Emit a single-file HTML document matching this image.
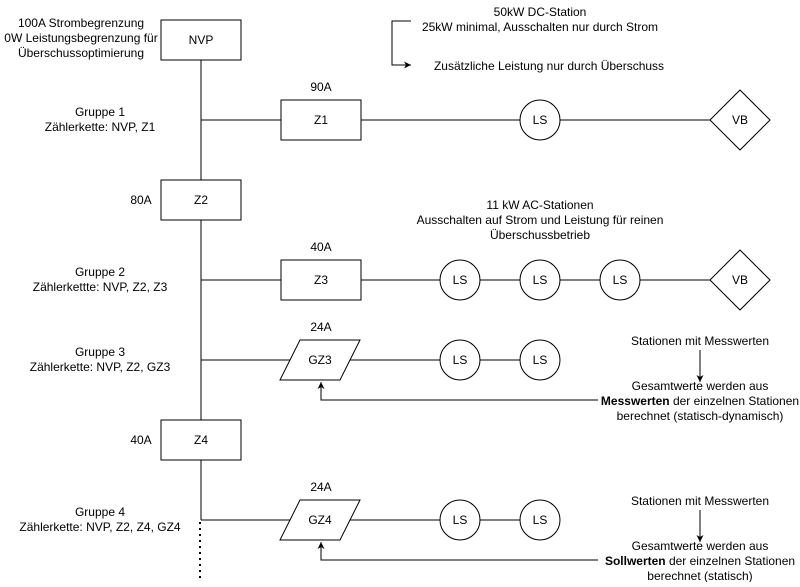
<!DOCTYPE html>
<html><head><meta charset="utf-8"><style>
body{margin:0;background:#fff}
text{font-family:"Liberation Sans",sans-serif;font-size:12px;fill:#000}
</style></head><body>
<svg width="800" height="582" viewBox="0 0 800 582" xmlns="http://www.w3.org/2000/svg">
<defs><marker id="a" markerWidth="8" markerHeight="8" refX="7" refY="4" orient="auto" markerUnits="userSpaceOnUse"><path d="M0,0.5 L7,4 L0,7.5 L2,4 Z" fill="#000"/></marker></defs>
<g stroke="#000" fill="none" stroke-width="1">
<path d="M201,60V180M201,220V420M201,460V520"/>
<path d="M201,120H281M361,120H520M560,120H710"/>
<path d="M201,280H281M361,280H440M480,280H520M560,280H600M640,280H710"/>
<path d="M201,360H290M350,360H440M480,360H520"/>
<path d="M201,520H290M350,520H440M480,520H520"/>
<path d="M200,522V580" stroke-width="2" stroke-dasharray="2,4"/>
<rect x="161" y="20" width="80" height="40" fill="#fff"/>
<rect x="161" y="180" width="80" height="40" fill="#fff"/>
<rect x="161" y="420" width="80" height="40" fill="#fff"/>
<rect x="281" y="100" width="80" height="40" fill="#fff"/>
<rect x="281" y="260" width="80" height="40" fill="#fff"/>
<path d="M300,340H360L340,380H280Z" fill="#fff"/>
<path d="M300,500H360L340,540H280Z" fill="#fff"/>
<circle cx="540" cy="120" r="20" fill="#fff"/>
<circle cx="460" cy="280" r="20" fill="#fff"/><circle cx="540" cy="280" r="20" fill="#fff"/><circle cx="620" cy="280" r="20" fill="#fff"/>
<circle cx="460" cy="360" r="20" fill="#fff"/><circle cx="540" cy="360" r="20" fill="#fff"/>
<circle cx="460" cy="520" r="20" fill="#fff"/><circle cx="540" cy="520" r="20" fill="#fff"/>
<path d="M740,90L770,120L740,150L710,120Z" fill="#fff"/>
<path d="M740,250L770,280L740,310L710,280Z" fill="#fff"/>
<path d="M598,400H321V382" marker-end="url(#a)"/>
<path d="M598,560H321V542" marker-end="url(#a)"/>
<path d="M700,350V382" marker-end="url(#a)"/>
<path d="M700,510V542" marker-end="url(#a)"/>
<path d="M411,21H392V65H411" marker-end="url(#a)"/>
</g>
<g text-anchor="middle">
<text x="201" y="44">NVP</text><text x="201" y="204">Z2</text><text x="201" y="444">Z4</text>
<text x="321" y="124">Z1</text><text x="321" y="284">Z3</text>
<text x="320" y="364">GZ3</text><text x="320" y="524">GZ4</text>
<text x="321" y="91">90A</text><text x="321" y="251">40A</text><text x="321" y="331">24A</text><text x="321" y="491">24A</text>
<text x="540" y="124">LS</text><text x="460" y="284">LS</text><text x="540" y="284">LS</text><text x="620" y="284">LS</text>
<text x="460" y="364">LS</text><text x="540" y="364">LS</text><text x="460" y="524">LS</text><text x="540" y="524">LS</text>
<text x="740" y="124">VB</text><text x="740" y="284">VB</text>
<text x="141" y="204">80A</text><text x="141" y="444">40A</text>
<text x="81" y="27">100A Strombegrenzung</text>
<text x="81" y="42">0W Leistungsbegrenzung für</text>
<text x="81" y="57">Überschussoptimierung</text>
<text x="100" y="116">Gruppe 1</text><text x="100" y="131">Zählerkette: NVP, Z1</text>
<text x="100" y="276">Gruppe 2</text><text x="100" y="291">Zählerkettte: NVP, Z2, Z3</text>
<text x="100" y="356">Gruppe 3</text><text x="100" y="371">Zählerkette: NVP, Z2, GZ3</text>
<text x="100" y="516">Gruppe 4</text><text x="100" y="531">Zählerkette: NVP, Z2, Z4, GZ4</text>
<text x="540" y="16">50kW DC-Station</text>
<text x="540" y="31">25kW minimal, Ausschalten nur durch Strom</text>
<text x="549" y="70">Zusätzliche Leistung nur durch Überschuss</text>
<text x="540" y="209">11 kW AC-Stationen</text>
<text x="540" y="224">Ausschalten auf Strom und Leistung für reinen</text>
<text x="540" y="239">Überschussbetrieb</text>
<text x="700" y="345">Stationen mit Messwerten</text>
<text x="700" y="390">Gesamtwerte werden aus</text>
<text x="700" y="405"><tspan font-weight="bold">Messwerten</tspan> der einzelnen Stationen</text>
<text x="700" y="420">berechnet (statisch-dynamisch)</text>
<text x="700" y="505">Stationen mit Messwerten</text>
<text x="700" y="550">Gesamtwerte werden aus</text>
<text x="700" y="565"><tspan font-weight="bold">Sollwerten</tspan> der einzelnen Stationen</text>
<text x="700" y="580">berechnet (statisch)</text>
</g>
</svg>
</body></html>
